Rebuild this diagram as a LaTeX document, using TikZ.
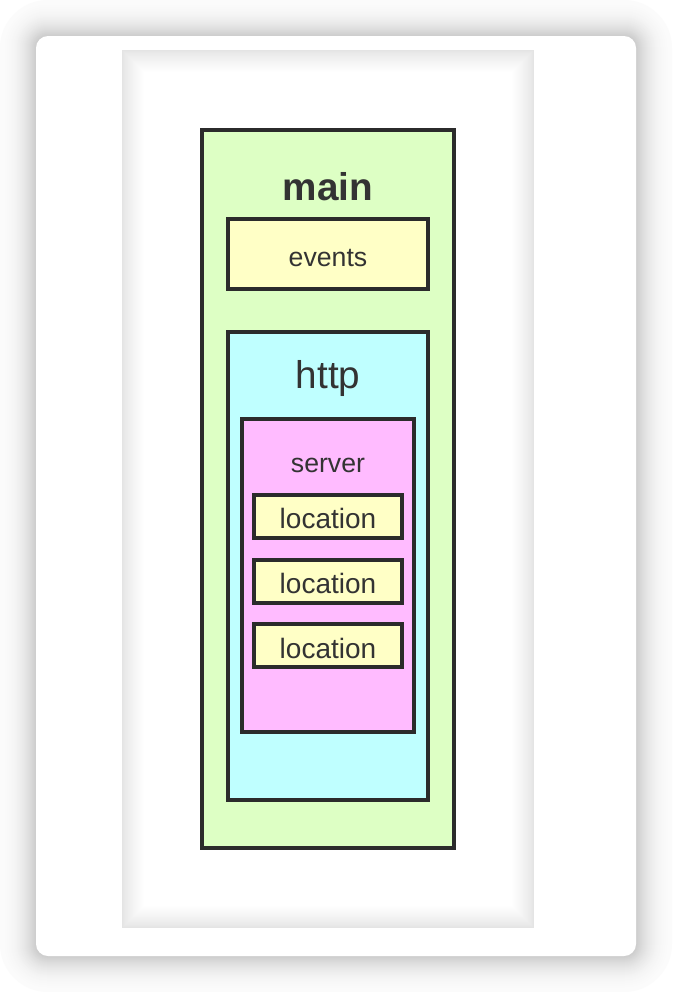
\documentclass[tikz,border=0pt]{standalone}
\usepackage{fontspec}
\setmainfont{Liberation Sans}
\definecolor{edge}{HTML}{2B2B2B}
\definecolor{txt}{HTML}{333333}
\definecolor{mainfill}{HTML}{DDFFC4}
\definecolor{yelfill}{HTML}{FFFFC6}
\definecolor{cyanfill}{HTML}{BFFFFF}
\definecolor{pinkfill}{HTML}{FFBBFF}
\definecolor{wellgray}{HTML}{E4E4E4}
\tikzset{
  box/.style={draw=edge, line width=3pt, rectangle, inner sep=0pt},
  small/.style={font=\fontsize{20}{24}\selectfont, text=txt, anchor=base},
  loctext/.style={font=\fontsize{21}{25}\selectfont, text=txt, anchor=base},
  big/.style={font=\fontsize{29}{34}\selectfont, text=txt, anchor=base},
}
\begin{document}
\begin{tikzpicture}[x=0.75pt,y=-0.75pt]
\useasboundingbox (0,0) rectangle (672,992);
\fill[white] (0,0) rectangle (672,992);
% outer soft shadow of the card
\foreach \i in {36,35,...,1}{
  \pgfmathsetmacro{\shade}{1.5+19*(1-\i/37)^2.2}
  \fill[black!\shade!white, rounded corners={9pt+\i*0.75pt}]
    ({36-\i},{36-\i}) rectangle ({636+\i},{956+\i});
}
% card
\fill[white, rounded corners=9pt] (36,36) rectangle (636,956);
% inner well with soft inner shadow
\foreach \k in {0,...,22}{
  \pgfmathsetmacro{\mix}{min(100,100*(\k/22)^0.8)}
  \fill[white!\mix!wellgray] ({122+\k},{50+\k}) rectangle ({534-\k},{928-\k});
}
% boxes
\node[box, fill=mainfill, minimum width=189pt, minimum height=538.5pt] (main) at (328,489) {};
\node[big, font=\fontsize{29}{34}\selectfont\bfseries] (mainlabel) at (328,200) {main};
\node[box, fill=yelfill, minimum width=150pt, minimum height=52.5pt] (events) at (328,254) {};
\node[small] (eventslabel) at (328,266) {events};
\node[box, fill=cyanfill, minimum width=150pt, minimum height=351pt] (http) at (328,566) {};
\node[big] (httplabel) at (328,388) {http};
\node[box, fill=pinkfill, minimum width=129pt, minimum height=234.4pt] (server) at (328,575.25) {};
\node[small] (serverlabel) at (328,472) {server};
\node[box, fill=yelfill, minimum width=111pt, minimum height=31.9pt] (loc1) at (328,516.25) {};
\node[loctext] (loc1label) at (328,528) {location};
\node[box, fill=yelfill, minimum width=111pt, minimum height=32.25pt] (loc2) at (328,581.5) {};
\node[loctext] (loc2label) at (328,593) {location};
\node[box, fill=yelfill, minimum width=111pt, minimum height=32.25pt] (loc3) at (328,645.5) {};
\node[loctext] (loc3label) at (328,658) {location};
\end{tikzpicture}
\end{document}
